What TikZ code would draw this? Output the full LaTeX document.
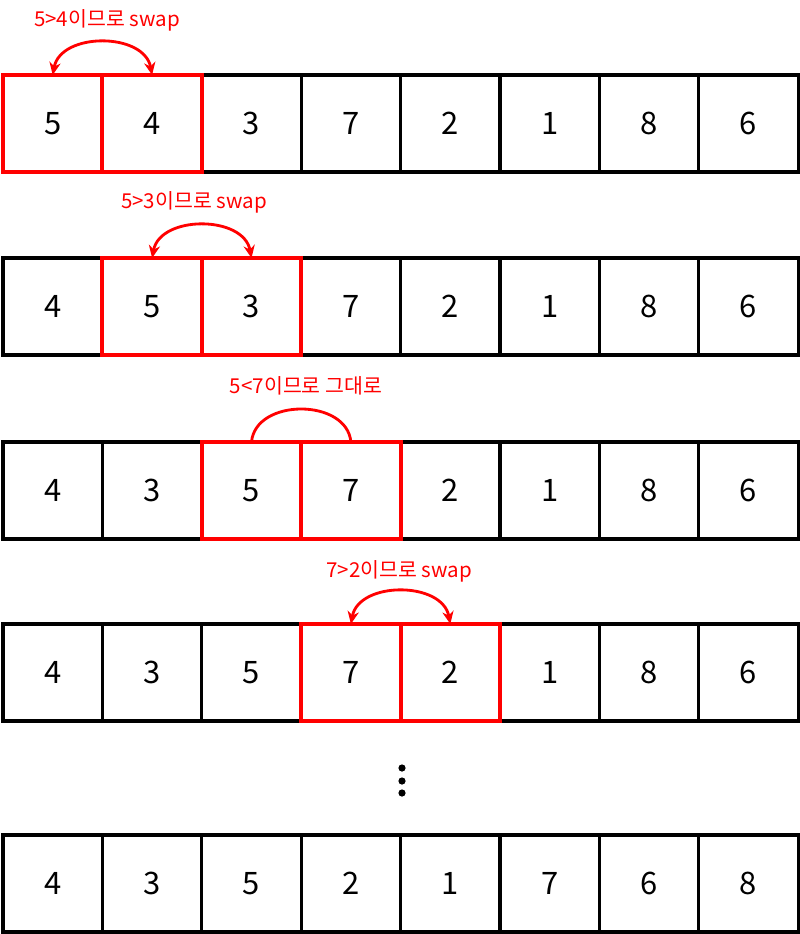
\documentclass[tikz,border=0pt]{standalone}
\usepackage{fontspec}
\setmainfont{Noto Sans CJK KR}
\usetikzlibrary{arrows.meta}

\tikzset{
  cell/.style={draw,line width=2.2pt,outer sep=0pt,minimum width=2.485cm,minimum height=2.425cm,inner sep=0pt,font=\fontsize{22}{26}\selectfont},
  hot/.style={draw=red,line width=2.8pt},
  note/.style={text=red,inner sep=0pt,font=\fontsize{14.6}{17}\selectfont},
  swaparc/.style={draw=red,line width=2pt,{Stealth[length=9pt,width=8pt]}-{Stealth[length=9pt,width=8pt]}},
  keeparc/.style={draw=red,line width=2pt},
}

\begin{document}
\begin{tikzpicture}[x=0.025cm,y=-0.025cm]
\useasboundingbox (0,0) rectangle (800,934);

%%% ARRAY ROWS
\foreach \r/\yc/\vals in {1/123.5/{5,4,3,7,2,1,8,6},2/306.5/{4,5,3,7,2,1,8,6},3/490.5/{4,3,5,7,2,1,8,6},4/672.5/{4,3,5,7,2,1,8,6},5/883.5/{4,3,5,2,1,7,6,8}}{
  \foreach \v [count=\c] in \vals
    \node[cell] (r\r c\c) at ({3+(\c-0.5)*99.4},\yc) {\v};
}

%%% COMPARED PAIRS
\draw[hot] (r1c1.north west) rectangle (r1c2.south east) (r1c1.north east) -- (r1c1.south east);
\draw[hot] (r2c2.north west) rectangle (r2c3.south east) (r2c2.north east) -- (r2c2.south east);
\draw[hot] (r3c3.north west) rectangle (r3c4.south east) (r3c3.north east) -- (r3c3.south east);
\draw[hot] (r4c4.north west) rectangle (r4c5.south east) (r4c4.north east) -- (r4c4.south east);

%%% ARCS
\draw[swaparc] (r1c1.north) .. controls +(8,-43) and +(-8,-43) .. (r1c2.north);
\draw[swaparc] (r2c2.north) .. controls +(8,-43) and +(-8,-43) .. (r2c3.north);
\draw[keeparc] (r3c3.north) .. controls +(4,-44) and +(-4,-44) .. (r3c4.north);
\draw[swaparc] (r4c4.north) .. controls +(8,-43) and +(-8,-43) .. (r4c5.north);

%%% LABELS
\node[note] (t1) at (107,20) {5>4이므로 swap};
\node[note] (t2) at (194,202) {5>3이므로 swap};
\node[note] (t3) at (306,386) {5<7이므로 그대로};
\node[note] (t4) at (399,571) {7>2이므로 swap};

%%% DOTS
\fill (402,768) circle (3.6) (402,781) circle (3.6) (402,793) circle (3.6);
\end{tikzpicture}
\end{document}
